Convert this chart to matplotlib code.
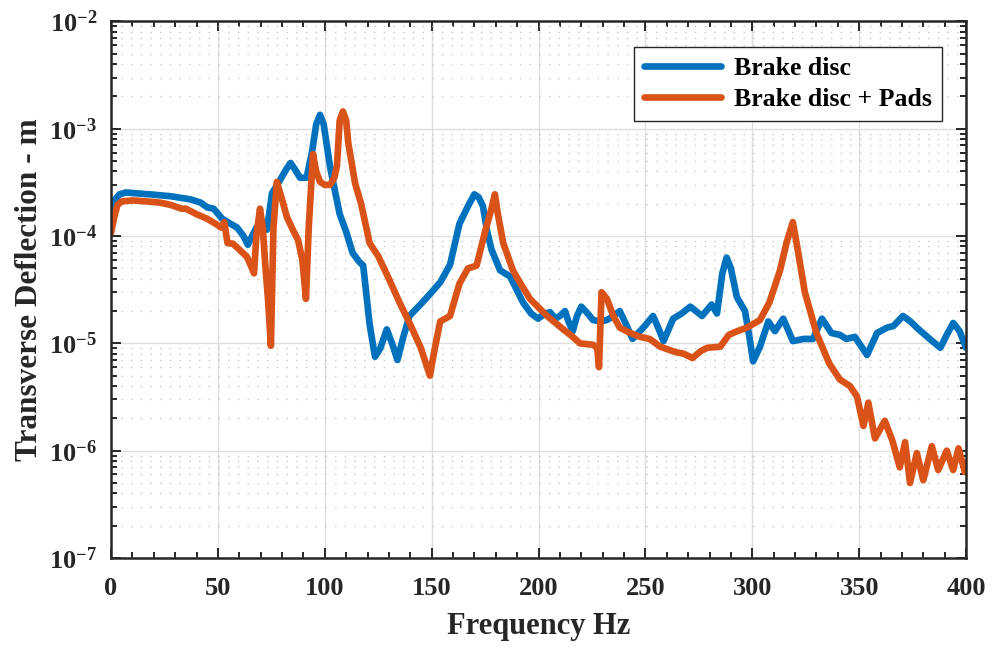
import matplotlib
matplotlib.use("Agg")
import matplotlib.pyplot as plt
from matplotlib.ticker import LogLocator, MultipleLocator, NullFormatter

# Frequency response of the brake disc, with and without pads
freq_disc = [0, 2, 4, 7, 12, 18, 23, 28, 31, 37, 42, 45, 48, 52, 56, 59, 62, 64, 66, 68,
             71, 73, 75.3, 79, 82, 84, 86, 88.4, 91.5, 94, 96, 97.8, 99.5, 102.5, 105, 107,
             110, 113, 116, 118, 121, 123.5, 126, 129, 131.5, 134, 136.5, 139.6, 145.6, 150,
             154, 158.6, 163, 167, 170, 172, 174, 176, 178, 182, 186.7, 192.8, 196.5, 199.8,
             203, 205.4, 208, 210, 212.4, 214, 216, 218, 220, 223, 225.5, 229, 232, 235, 238,
             241, 244, 249, 253.6, 256, 258.5, 263, 267, 271, 276.5, 281, 283.5, 286, 288,
             290, 292.8, 296.6, 298.5, 300.4, 303.6, 307.5, 310.6, 314.5, 317, 319, 324,
             328.4, 332.6, 337, 341, 344, 348, 353.7, 358.4, 363, 366, 370.5, 374, 377, 383,
             388, 391, 394, 397, 400]
defl_disc = [1.6e-4, 2.2e-4, 2.45e-4, 2.55e-4, 2.5e-4, 2.45e-4, 2.4e-4, 2.35e-4, 2.3e-4,
             2.2e-4, 2.05e-4, 1.85e-4, 1.8e-4, 1.45e-4, 1.3e-4, 1.2e-4, 1.0e-4, 8.3e-5,
             1.0e-4, 1.2e-4, 1.15e-4, 1.15e-4, 2.5e-4, 3.3e-4, 4.2e-4, 4.8e-4, 4.2e-4,
             3.5e-4, 3.5e-4, 6e-4, 1.1e-3, 1.35e-3, 1.1e-3, 4.4e-4, 2.5e-4, 1.6e-4, 1.1e-4,
             7e-5, 5.8e-5, 5.3e-5, 1.5e-5, 7.5e-6, 9e-6, 1.35e-5, 1e-5, 7e-6, 1.1e-5,
             1.8e-5, 2.4e-5, 3e-5, 3.7e-5, 5.4e-5, 1.3e-4, 1.9e-4, 2.45e-4, 2.3e-4, 1.9e-4,
             1.1e-4, 7.5e-5, 4.8e-5, 4.2e-5, 2.4e-5, 1.9e-5, 1.7e-5, 1.9e-5, 1.95e-5,
             1.7e-5, 1.8e-5, 2e-5, 1.6e-5, 1.3e-5, 1.8e-5, 2.2e-5, 1.9e-5, 1.65e-5, 1.6e-5,
             1.65e-5, 1.8e-5, 2e-5, 1.5e-5, 1.1e-5, 1.4e-5, 1.8e-5, 1.4e-5, 1.05e-5,
             1.7e-5, 1.9e-5, 2.2e-5, 1.8e-5, 2.3e-5, 1.9e-5, 4.5e-5, 6.3e-5, 5e-5, 2.7e-5,
             2e-5, 1.2e-5, 6.8e-6, 9.3e-6, 1.6e-5, 1.3e-5, 1.7e-5, 1.3e-5, 1.05e-5,
             1.1e-5, 1.1e-5, 1.7e-5, 1.25e-5, 1.2e-5, 1.1e-5, 1.15e-5, 7.8e-6, 1.25e-5,
             1.4e-5, 1.45e-5, 1.8e-5, 1.6e-5, 1.4e-5, 1.1e-5, 9.1e-6, 1.2e-5, 1.55e-5,
             1.3e-5, 9.1e-6]

freq_pads = [0, 1.5, 3, 5, 10, 17, 23, 28, 33, 35, 40, 45, 49, 51.5, 53, 54.5, 57, 60,
             63.6, 66, 66.9, 68, 69.7, 71, 72, 73.5, 74.8, 76, 77.6, 80, 82.3, 85, 87.5,
             89.5, 91.2, 92.5, 94.5, 96, 97.8, 100, 102.5, 104.5, 105.7, 107, 108.5, 110,
             111, 114.2, 117, 121, 125, 130, 135, 140, 145, 149.2, 151, 154, 158.6, 163,
             167, 171, 175, 178, 179.6, 181, 183.5, 188, 192, 196, 204, 211.6, 216, 219.4,
             225.6, 227.5, 228.3, 229.5, 232, 235, 238, 243, 247.5, 252, 257, 264, 268,
             272, 276, 279, 285, 289, 293, 297.5, 303.6, 308, 313, 316, 319, 321, 324.6,
             330, 336, 341, 345.7, 349, 352, 354.3, 357.4, 362, 365.5, 369, 371.5, 373.8,
             377, 380, 384, 387, 391, 394, 396.5, 399.5, 400]
defl_pads = [1.07e-4, 1.5e-4, 1.95e-4, 2.1e-4, 2.15e-4, 2.1e-4, 2.05e-4, 1.95e-4, 1.8e-4,
             1.8e-4, 1.6e-4, 1.45e-4, 1.3e-4, 1.2e-4, 1.35e-4, 8.6e-5, 8.5e-5, 7.5e-5,
             6.4e-5, 5e-5, 4.5e-5, 1e-4, 1.8e-4, 1.2e-4, 6e-5, 2.5e-5, 9.5e-6, 1.2e-4,
             3.2e-4, 2.2e-4, 1.5e-4, 1.15e-4, 9.2e-5, 6e-5, 2.6e-5, 1.2e-4, 5.8e-4, 4e-4,
             3.2e-4, 3e-4, 3e-4, 3.5e-4, 4.5e-4, 1.2e-3, 1.45e-3, 1.2e-3, 7.4e-4, 3.1e-4,
             2e-4, 8.6e-5, 6.5e-5, 4e-5, 2.4e-5, 1.5e-5, 9e-6, 5e-6, 8e-6, 1.6e-5, 1.8e-5,
             3.6e-5, 5e-5, 5.3e-5, 1.1e-4, 1.8e-4, 2.45e-4, 1.6e-4, 8.6e-5, 4.8e-5, 3.5e-5,
             2.6e-5, 1.8e-5, 1.35e-5, 1.15e-5, 1.0e-5, 9.7e-6, 9e-6, 6e-6, 3e-5, 2.6e-5,
             1.8e-5, 1.4e-5, 1.25e-5, 1.15e-5, 1.1e-5, 9.3e-6, 8.3e-6, 8e-6, 7.3e-6, 8.5e-6,
             9.1e-6, 9.3e-6, 1.2e-5, 1.3e-5, 1.4e-5, 1.65e-5, 2.4e-5, 4.8e-5, 8.6e-5,
             1.35e-4, 8e-5, 3e-5, 1.25e-5, 6.5e-6, 4.6e-6, 4e-6, 3.2e-6, 1.7e-6, 2.8e-6,
             1.3e-6, 1.9e-6, 1.25e-6, 7e-7, 1.2e-6, 5e-7, 9.5e-7, 5.3e-7, 1.1e-6, 6.6e-7,
             1e-6, 6.6e-7, 1.05e-6, 6.3e-7, 6.5e-7]

series_labels = ["Brake disc", "Brake disc + Pads"]
x_label = "Frequency Hz"
y_label = "Transverse Deflection - m"

plt.rcParams["font.family"] = ["Liberation Serif", "DejaVu Serif"]
plt.rcParams["font.weight"] = "bold"
plt.rcParams["mathtext.fontset"] = "custom"
plt.rcParams["mathtext.rm"] = "Liberation Serif:bold"
plt.rcParams["mathtext.it"] = "Liberation Serif:bold:italic"
plt.rcParams["mathtext.bf"] = "Liberation Serif:bold"

BLUE = "#0072BD"
ORANGE = "#D95319"
AXCOL = "#262626"

fig = plt.figure(figsize=(9.92, 6.47), dpi=100)
ax = fig.add_axes([0.1119, 0.1376, 0.8619, 0.8292])

ax.plot(freq_disc, defl_disc, color=BLUE, lw=4.8, solid_joinstyle="round",
        solid_capstyle="round", label=series_labels[0])
ax.plot(freq_pads, defl_pads, color=ORANGE, lw=4.8, solid_joinstyle="round",
        solid_capstyle="round", label=series_labels[1])

ax.set_yscale("log")
ax.set_xlim(0, 400)
ax.set_ylim(1e-7, 1e-2)

ax.xaxis.set_major_locator(MultipleLocator(50))
ax.xaxis.set_minor_locator(MultipleLocator(10))
ax.yaxis.set_major_locator(LogLocator(base=10, numticks=20))
ax.yaxis.set_minor_locator(LogLocator(base=10, subs=range(2, 10), numticks=20))
ax.yaxis.set_minor_formatter(NullFormatter())

ax.grid(True, which="major", color="#dedede", lw=1.0)
ax.yaxis.grid(True, which="minor", color="#c8c8c8", lw=1.0, ls=(0, (1, 6)))
ax.set_axisbelow(True)

ax.tick_params(which="both", direction="in", top=True, right=True, colors=AXCOL,
               labelcolor=AXCOL, width=1.4)
ax.tick_params(which="major", length=7, labelsize=19)
ax.tick_params(axis="x", which="major", pad=14)
ax.tick_params(axis="y", which="major", pad=10)
ax.tick_params(which="minor", length=4)
for sp in ax.spines.values():
    sp.set_color(AXCOL)
    sp.set_linewidth(1.8)

ax.set_xlabel(x_label, fontsize=22, fontweight="bold", color=AXCOL, labelpad=8)
ax.set_ylabel(y_label, fontsize=22.5, fontweight="bold", color=AXCOL, labelpad=4)

leg = ax.legend(loc="upper right", bbox_to_anchor=(0.972, 0.9525), borderaxespad=0,
                fontsize=18.5, frameon=True, fancybox=False, edgecolor=AXCOL,
                framealpha=1, handlelength=3.0, borderpad=0.4, labelspacing=0.3,
                handletextpad=0.5)
leg.get_frame().set_linewidth(1.0)
for t in leg.get_texts():
    t.set_fontweight("bold")

fig.savefig("out.png", dpi=100)
